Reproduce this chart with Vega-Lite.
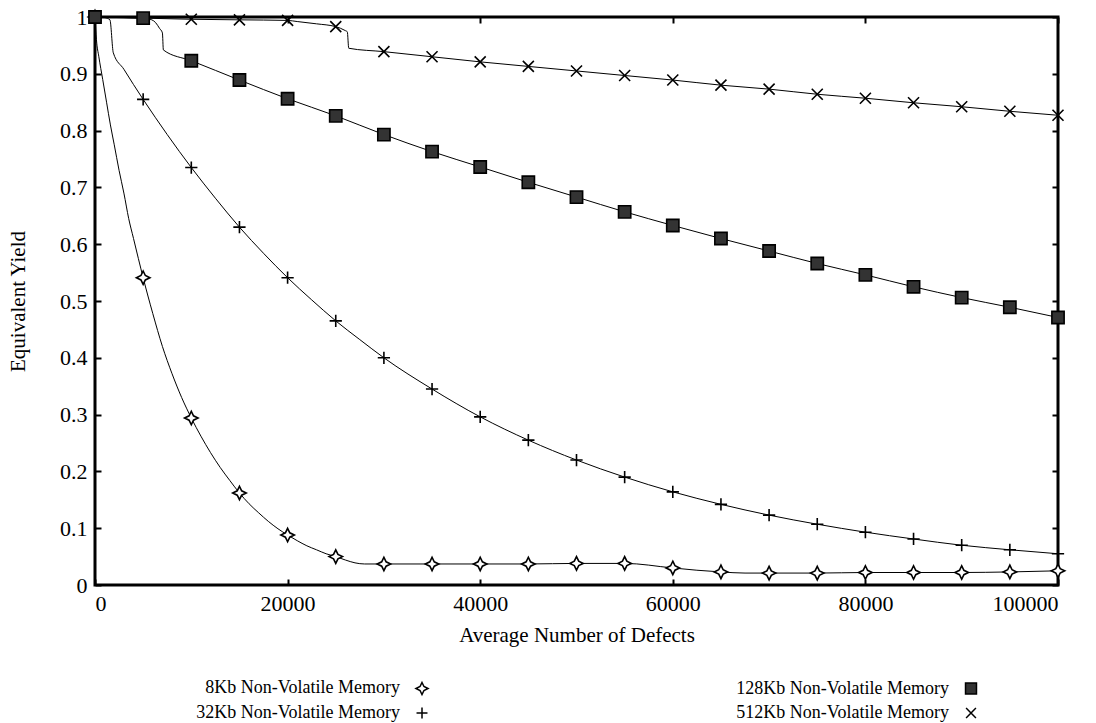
{
  "$schema": "https://vega.github.io/schema/vega-lite/v6.json",
  "width": 963,
  "height": 568,
  "autosize": "none",
  "padding": {"left": 95, "top": 17, "right": 38, "bottom": 138},
  "background": "white",
  "config": {
    "font": "Liberation Serif",
    "view": {"stroke": "black", "strokeWidth": 3},
    "axis": {
      "grid": false,
      "domain": false,
      "tickColor": "black",
      "tickWidth": 2,
      "tickSize": -6,
      "labelColor": "black",
      "labelFont": "Liberation Serif",
      "titleFont": "Liberation Serif",
      "titleFontWeight": "normal",
      "titleColor": "black"
    }
  },
  "datasets": {
    "yieldCurves": [
      {"series": "8Kb Non-Volatile Memory", "defects": 0, "yield": 1.0},
      {"series": "8Kb Non-Volatile Memory", "defects": 150, "yield": 0.96},
      {"series": "8Kb Non-Volatile Memory", "defects": 400, "yield": 0.93},
      {"series": "8Kb Non-Volatile Memory", "defects": 800, "yield": 0.89},
      {"series": "8Kb Non-Volatile Memory", "defects": 1200, "yield": 0.85},
      {"series": "8Kb Non-Volatile Memory", "defects": 1600, "yield": 0.81},
      {"series": "8Kb Non-Volatile Memory", "defects": 2000, "yield": 0.775},
      {"series": "8Kb Non-Volatile Memory", "defects": 2500, "yield": 0.73},
      {"series": "8Kb Non-Volatile Memory", "defects": 3000, "yield": 0.69},
      {"series": "8Kb Non-Volatile Memory", "defects": 3500, "yield": 0.645},
      {"series": "8Kb Non-Volatile Memory", "defects": 4000, "yield": 0.61},
      {"series": "8Kb Non-Volatile Memory", "defects": 4500, "yield": 0.575},
      {"series": "8Kb Non-Volatile Memory", "defects": 5000, "yield": 0.541},
      {"series": "8Kb Non-Volatile Memory", "defects": 6000, "yield": 0.478},
      {"series": "8Kb Non-Volatile Memory", "defects": 7000, "yield": 0.42},
      {"series": "8Kb Non-Volatile Memory", "defects": 8000, "yield": 0.372},
      {"series": "8Kb Non-Volatile Memory", "defects": 9000, "yield": 0.33},
      {"series": "8Kb Non-Volatile Memory", "defects": 10000, "yield": 0.294},
      {"series": "8Kb Non-Volatile Memory", "defects": 11000, "yield": 0.262},
      {"series": "8Kb Non-Volatile Memory", "defects": 12000, "yield": 0.233},
      {"series": "8Kb Non-Volatile Memory", "defects": 13000, "yield": 0.207},
      {"series": "8Kb Non-Volatile Memory", "defects": 14000, "yield": 0.184},
      {"series": "8Kb Non-Volatile Memory", "defects": 15000, "yield": 0.162},
      {"series": "8Kb Non-Volatile Memory", "defects": 16000, "yield": 0.143},
      {"series": "8Kb Non-Volatile Memory", "defects": 17000, "yield": 0.127},
      {"series": "8Kb Non-Volatile Memory", "defects": 18000, "yield": 0.112},
      {"series": "8Kb Non-Volatile Memory", "defects": 19000, "yield": 0.099},
      {"series": "8Kb Non-Volatile Memory", "defects": 20000, "yield": 0.088},
      {"series": "8Kb Non-Volatile Memory", "defects": 21000, "yield": 0.078},
      {"series": "8Kb Non-Volatile Memory", "defects": 22000, "yield": 0.069},
      {"series": "8Kb Non-Volatile Memory", "defects": 23000, "yield": 0.062},
      {"series": "8Kb Non-Volatile Memory", "defects": 24000, "yield": 0.055},
      {"series": "8Kb Non-Volatile Memory", "defects": 25000, "yield": 0.05},
      {"series": "8Kb Non-Volatile Memory", "defects": 26000, "yield": 0.044},
      {"series": "8Kb Non-Volatile Memory", "defects": 27000, "yield": 0.039},
      {"series": "8Kb Non-Volatile Memory", "defects": 28000, "yield": 0.037},
      {"series": "8Kb Non-Volatile Memory", "defects": 30000, "yield": 0.037},
      {"series": "8Kb Non-Volatile Memory", "defects": 35000, "yield": 0.037},
      {"series": "8Kb Non-Volatile Memory", "defects": 40000, "yield": 0.037},
      {"series": "8Kb Non-Volatile Memory", "defects": 45000, "yield": 0.037},
      {"series": "8Kb Non-Volatile Memory", "defects": 50000, "yield": 0.038},
      {"series": "8Kb Non-Volatile Memory", "defects": 55000, "yield": 0.038},
      {"series": "8Kb Non-Volatile Memory", "defects": 60000, "yield": 0.03},
      {"series": "8Kb Non-Volatile Memory", "defects": 62500, "yield": 0.026},
      {"series": "8Kb Non-Volatile Memory", "defects": 65000, "yield": 0.023},
      {"series": "8Kb Non-Volatile Memory", "defects": 67500, "yield": 0.021},
      {"series": "8Kb Non-Volatile Memory", "defects": 70000, "yield": 0.021},
      {"series": "8Kb Non-Volatile Memory", "defects": 75000, "yield": 0.021},
      {"series": "8Kb Non-Volatile Memory", "defects": 80000, "yield": 0.022},
      {"series": "8Kb Non-Volatile Memory", "defects": 85000, "yield": 0.022},
      {"series": "8Kb Non-Volatile Memory", "defects": 90000, "yield": 0.022},
      {"series": "8Kb Non-Volatile Memory", "defects": 95000, "yield": 0.023},
      {"series": "8Kb Non-Volatile Memory", "defects": 100000, "yield": 0.025},

      {"series": "32Kb Non-Volatile Memory", "defects": 0, "yield": 1.0},
      {"series": "32Kb Non-Volatile Memory", "defects": 1000, "yield": 0.999},
      {"series": "32Kb Non-Volatile Memory", "defects": 1550, "yield": 0.995},
      {"series": "32Kb Non-Volatile Memory", "defects": 1900, "yield": 0.937},
      {"series": "32Kb Non-Volatile Memory", "defects": 3000, "yield": 0.908},
      {"series": "32Kb Non-Volatile Memory", "defects": 4000, "yield": 0.881},
      {"series": "32Kb Non-Volatile Memory", "defects": 5000, "yield": 0.855},
      {"series": "32Kb Non-Volatile Memory", "defects": 7500, "yield": 0.793},
      {"series": "32Kb Non-Volatile Memory", "defects": 10000, "yield": 0.735},
      {"series": "32Kb Non-Volatile Memory", "defects": 12500, "yield": 0.681},
      {"series": "32Kb Non-Volatile Memory", "defects": 15000, "yield": 0.63},
      {"series": "32Kb Non-Volatile Memory", "defects": 17500, "yield": 0.584},
      {"series": "32Kb Non-Volatile Memory", "defects": 20000, "yield": 0.541},
      {"series": "32Kb Non-Volatile Memory", "defects": 22500, "yield": 0.502},
      {"series": "32Kb Non-Volatile Memory", "defects": 25000, "yield": 0.465},
      {"series": "32Kb Non-Volatile Memory", "defects": 27500, "yield": 0.432},
      {"series": "32Kb Non-Volatile Memory", "defects": 30000, "yield": 0.4},
      {"series": "32Kb Non-Volatile Memory", "defects": 35000, "yield": 0.345},
      {"series": "32Kb Non-Volatile Memory", "defects": 40000, "yield": 0.296},
      {"series": "32Kb Non-Volatile Memory", "defects": 45000, "yield": 0.255},
      {"series": "32Kb Non-Volatile Memory", "defects": 50000, "yield": 0.22},
      {"series": "32Kb Non-Volatile Memory", "defects": 55000, "yield": 0.19},
      {"series": "32Kb Non-Volatile Memory", "defects": 60000, "yield": 0.164},
      {"series": "32Kb Non-Volatile Memory", "defects": 65000, "yield": 0.142},
      {"series": "32Kb Non-Volatile Memory", "defects": 70000, "yield": 0.123},
      {"series": "32Kb Non-Volatile Memory", "defects": 75000, "yield": 0.107},
      {"series": "32Kb Non-Volatile Memory", "defects": 80000, "yield": 0.093},
      {"series": "32Kb Non-Volatile Memory", "defects": 85000, "yield": 0.081},
      {"series": "32Kb Non-Volatile Memory", "defects": 90000, "yield": 0.07},
      {"series": "32Kb Non-Volatile Memory", "defects": 95000, "yield": 0.062},
      {"series": "32Kb Non-Volatile Memory", "defects": 100000, "yield": 0.055},

      {"series": "512Kb Non-Volatile Memory", "defects": 0, "yield": 1.0},
      {"series": "512Kb Non-Volatile Memory", "defects": 5000, "yield": 0.998},
      {"series": "512Kb Non-Volatile Memory", "defects": 10000, "yield": 0.996},
      {"series": "512Kb Non-Volatile Memory", "defects": 15000, "yield": 0.995},
      {"series": "512Kb Non-Volatile Memory", "defects": 20000, "yield": 0.994},
      {"series": "512Kb Non-Volatile Memory", "defects": 21000, "yield": 0.992},
      {"series": "512Kb Non-Volatile Memory", "defects": 23000, "yield": 0.988},
      {"series": "512Kb Non-Volatile Memory", "defects": 25000, "yield": 0.983},
      {"series": "512Kb Non-Volatile Memory", "defects": 26000, "yield": 0.976},
      {"series": "512Kb Non-Volatile Memory", "defects": 26200, "yield": 0.974},
      {"series": "512Kb Non-Volatile Memory", "defects": 26350, "yield": 0.945},
      {"series": "512Kb Non-Volatile Memory", "defects": 30000, "yield": 0.939},
      {"series": "512Kb Non-Volatile Memory", "defects": 35000, "yield": 0.93},
      {"series": "512Kb Non-Volatile Memory", "defects": 40000, "yield": 0.921},
      {"series": "512Kb Non-Volatile Memory", "defects": 45000, "yield": 0.913},
      {"series": "512Kb Non-Volatile Memory", "defects": 50000, "yield": 0.905},
      {"series": "512Kb Non-Volatile Memory", "defects": 55000, "yield": 0.897},
      {"series": "512Kb Non-Volatile Memory", "defects": 60000, "yield": 0.889},
      {"series": "512Kb Non-Volatile Memory", "defects": 65000, "yield": 0.88},
      {"series": "512Kb Non-Volatile Memory", "defects": 70000, "yield": 0.873},
      {"series": "512Kb Non-Volatile Memory", "defects": 75000, "yield": 0.864},
      {"series": "512Kb Non-Volatile Memory", "defects": 80000, "yield": 0.857},
      {"series": "512Kb Non-Volatile Memory", "defects": 85000, "yield": 0.849},
      {"series": "512Kb Non-Volatile Memory", "defects": 90000, "yield": 0.842},
      {"series": "512Kb Non-Volatile Memory", "defects": 95000, "yield": 0.834},
      {"series": "512Kb Non-Volatile Memory", "defects": 100000, "yield": 0.827},

      {"series": "128Kb Non-Volatile Memory", "defects": 0, "yield": 1.0},
      {"series": "128Kb Non-Volatile Memory", "defects": 5000, "yield": 0.998},
      {"series": "128Kb Non-Volatile Memory", "defects": 5900, "yield": 0.995},
      {"series": "128Kb Non-Volatile Memory", "defects": 6300, "yield": 0.99},
      {"series": "128Kb Non-Volatile Memory", "defects": 6700, "yield": 0.98},
      {"series": "128Kb Non-Volatile Memory", "defects": 7000, "yield": 0.972},
      {"series": "128Kb Non-Volatile Memory", "defects": 7100, "yield": 0.942},
      {"series": "128Kb Non-Volatile Memory", "defects": 10000, "yield": 0.923},
      {"series": "128Kb Non-Volatile Memory", "defects": 15000, "yield": 0.889},
      {"series": "128Kb Non-Volatile Memory", "defects": 20000, "yield": 0.856},
      {"series": "128Kb Non-Volatile Memory", "defects": 25000, "yield": 0.826},
      {"series": "128Kb Non-Volatile Memory", "defects": 30000, "yield": 0.793},
      {"series": "128Kb Non-Volatile Memory", "defects": 35000, "yield": 0.763},
      {"series": "128Kb Non-Volatile Memory", "defects": 40000, "yield": 0.736},
      {"series": "128Kb Non-Volatile Memory", "defects": 45000, "yield": 0.709},
      {"series": "128Kb Non-Volatile Memory", "defects": 50000, "yield": 0.683},
      {"series": "128Kb Non-Volatile Memory", "defects": 55000, "yield": 0.657},
      {"series": "128Kb Non-Volatile Memory", "defects": 60000, "yield": 0.633},
      {"series": "128Kb Non-Volatile Memory", "defects": 65000, "yield": 0.61},
      {"series": "128Kb Non-Volatile Memory", "defects": 70000, "yield": 0.588},
      {"series": "128Kb Non-Volatile Memory", "defects": 75000, "yield": 0.566},
      {"series": "128Kb Non-Volatile Memory", "defects": 80000, "yield": 0.546},
      {"series": "128Kb Non-Volatile Memory", "defects": 85000, "yield": 0.525},
      {"series": "128Kb Non-Volatile Memory", "defects": 90000, "yield": 0.506},
      {"series": "128Kb Non-Volatile Memory", "defects": 95000, "yield": 0.489},
      {"series": "128Kb Non-Volatile Memory", "defects": 100000, "yield": 0.471}
    ]
  },
  "data": {"name": "yieldCurves"},
  "layer": [
    {
      "mark": {"type": "line", "interpolate": "monotone", "stroke": "black", "strokeWidth": 1},
      "encoding": {
        "x": {
          "field": "defects", "type": "quantitative",
          "scale": {"domain": [0, 100000], "nice": false},
          "axis": {
            "orient": "bottom",
            "values": [0, 20000, 40000, 60000, 80000, 100000],
            "format": "d",
            "title": "Average Number of Defects",
            "labelFontSize": 22,
            "titleFontSize": 21,
            "labelPadding": 14,
            "titlePadding": 10
          }
        },
        "y": {
          "field": "yield", "type": "quantitative",
          "scale": {"domain": [0, 1], "nice": false},
          "axis": {
            "orient": "left",
            "values": [0, 0.1, 0.2, 0.3, 0.4, 0.5, 0.6, 0.7, 0.8, 0.9, 1],
            "format": ".1~f",
            "title": "Equivalent Yield",
            "labelFontSize": 22,
            "titleFontSize": 21,
            "labelPadding": 14,
            "titlePadding": 31
          }
        },
        "detail": {"field": "series"}
      }
    },
    {
      "transform": [{"filter": "datum.defects % 5000 === 0"}],
      "mark": {"type": "point", "size": 150, "strokeWidth": 1.6, "stroke": "black", "opacity": 1},
      "encoding": {
        "x": {
          "field": "defects", "type": "quantitative",
          "axis": {
            "orient": "top",
            "values": [0, 20000, 40000, 60000, 80000, 100000],
            "labels": false,
            "title": null
          }
        },
        "y": {
          "field": "yield", "type": "quantitative",
          "axis": {
            "orient": "right",
            "values": [0, 0.1, 0.2, 0.3, 0.4, 0.5, 0.6, 0.7, 0.8, 0.9, 1],
            "labels": false,
            "title": null
          }
        },
        "shape": {
          "field": "series", "type": "nominal",
          "scale": {
            "domain": ["8Kb Non-Volatile Memory", "128Kb Non-Volatile Memory", "32Kb Non-Volatile Memory", "512Kb Non-Volatile Memory"],
            "range": [
              "M0,-1.1L0.36,-0.36L1.1,0L0.36,0.36L0,1.1L-0.36,0.36L-1.1,0L-0.36,-0.36Z",
              "square",
              "M-1,0L1,0M0,-1L0,1",
              "M-0.9,-0.9L0.9,0.9M-0.9,0.9L0.9,-0.9"
            ]
          },
          "legend": {
            "title": null,
            "orient": "none",
            "legendX": 318,
            "legendY": 662,
            "columns": 2,
            "direction": "horizontal",
            "labelAlign": "right",
            "labelOffset": -31,
            "labelLimit": 0,
            "columnPadding": 304,
            "rowPadding": 6,
            "labelFontSize": 18,
            "labelFont": "Liberation Serif",
            "labelColor": "black",
            "symbolStrokeWidth": 1.5,
            "symbolSize": 120
          }
        },
        "fill": {
          "field": "series", "type": "nominal",
          "scale": {
            "domain": ["8Kb Non-Volatile Memory", "128Kb Non-Volatile Memory", "32Kb Non-Volatile Memory", "512Kb Non-Volatile Memory"],
            "range": ["white", "#333333", "white", "white"]
          },
          "legend": null
        }
      }
    }
  ],
  "resolve": {"axis": {"x": "independent", "y": "independent"}}
}
